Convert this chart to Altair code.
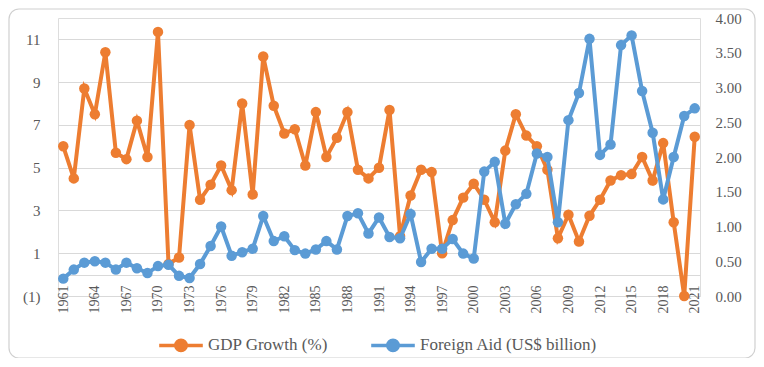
import altair as alt
import pandas as pd

years = list(range(1961, 2022))
gdp = [6.0, 4.5, 8.7, 7.5, 10.4, 5.7, 5.4, 7.2, 5.5, 11.35,
       0.5, 0.8, 7.0, 3.5, 4.2, 5.1, 3.95, 8.0, 3.75, 10.2,
       7.9, 6.6, 6.8, 5.1, 7.6, 5.5, 6.4, 7.6, 4.9, 4.5,
       5.0, 7.7, 1.8, 3.7, 4.9, 4.8, 1.0, 2.55, 3.6, 4.25,
       3.5, 2.45, 5.8, 7.5, 6.5, 6.0, 4.9, 1.7, 2.8, 1.55,
       2.75, 3.5, 4.4, 4.65, 4.7, 5.5, 4.4, 6.15, 2.45, -1.0, 6.45]
aid = [0.25, 0.38, 0.48, 0.50, 0.48, 0.38, 0.48, 0.40, 0.33, 0.43,
       0.45, 0.29, 0.26, 0.46, 0.72, 1.00, 0.58, 0.63, 0.68, 1.15,
       0.79, 0.86, 0.66, 0.61, 0.67, 0.79, 0.67, 1.15, 1.19, 0.90,
       1.13, 0.85, 0.83, 1.18, 0.49, 0.68, 0.68, 0.82, 0.61, 0.54,
       1.79, 1.93, 1.04, 1.32, 1.47, 2.05, 2.00, 1.06, 2.53, 2.92,
       3.70, 2.03, 2.18, 3.61, 3.75, 2.95, 2.35, 1.39, 2.00, 2.59, 2.70]
series_names = ["GDP Growth (%)", "Foreign Aid (US$ billion)"]
series_colors = ["#ED7D31", "#5B9BD5"]
left_ticks = [-1, 1, 3, 5, 7, 9, 11]
right_ticks = [0, 0.5, 1, 1.5, 2, 2.5, 3, 3.5, 4]
x_ticks = list(range(1961, 2022, 3))

df = pd.concat([
    pd.DataFrame({"year": years, "value": gdp, "series": series_names[0]}),
    pd.DataFrame({"year": years, "value": aid, "series": series_names[1]}),
])

FONT = "Liberation Serif, Times New Roman, serif"
TXT = "#595959"
GRID = "#d9d9d9"
W, H = 642, 278

color = alt.Color("series:N", scale=alt.Scale(domain=series_names, range=series_colors),
                  legend=alt.Legend(title=None, orient="none", direction="horizontal",
                                    legendX=99, legendY=303,
                                    symbolType="M-1,0L1,0M0.24,0A0.24,0.24,0,1,1,-0.24,0A0.24,0.24,0,1,1,0.24,0Z",
                                    symbolSize=1900, symbolStrokeWidth=3.5,
                                    labelFont=FONT, labelFontSize=17, labelColor=TXT,
                                    labelOffset=3, columnPadding=36, labelLimit=400))

xenc = alt.X("year:Q", scale=alt.Scale(domain=[1960.5, 2021.5], nice=False, zero=False),
             axis=alt.Axis(values=x_ticks, format="d", labelAngle=-90, title=None, grid=False,
                           ticks=False, domain=True, domainColor=GRID, offset=-21,
                           labelPadding=10, labelFont=FONT, labelFontSize=14, labelColor=TXT))

base = alt.Chart(df)

gdp_layer = base.transform_filter(alt.datum.series == series_names[0]).mark_line(
    strokeWidth=4, point=alt.OverlayMarkDef(size=110, filled=True, opacity=1)
).encode(
    x=xenc,
    y=alt.Y("value:Q", scale=alt.Scale(domain=[-1, 12], nice=False, zero=False),
            axis=alt.Axis(values=left_ticks, orient="left", title=None, grid=True, gridColor=GRID,
                          domain=False, ticks=False, labelPadding=18,
                          labelExpr="datum.value < 0 ? '(' + abs(datum.value) + ')' : datum.value",
                          labelFont=FONT, labelFontSize=15, labelColor=TXT)),
    color=color,
)

aid_layer = base.transform_filter(alt.datum.series == series_names[1]).mark_line(
    strokeWidth=4, point=alt.OverlayMarkDef(size=110, filled=True, opacity=1)
).encode(
    x=xenc,
    y=alt.Y("value:Q", scale=alt.Scale(domain=[0, 4], nice=False, zero=False),
            axis=alt.Axis(values=right_ticks, orient="right", title=None, grid=False,
                          domain=False, ticks=False, labelPadding=15, format=".2f",
                          labelFont=FONT, labelFontSize=15, labelColor=TXT)),
    color=color,
)

border = alt.Chart(pd.DataFrame({"k": [0]})).mark_rect(
    fillOpacity=0, stroke="#d0d0d0", strokeWidth=1.2, cornerRadius=10
).encode(x=alt.value(-49), x2=alt.value(697), y=alt.value(-9), y2=alt.value(340))

chart = alt.layer(border, gdp_layer, aid_layer).resolve_scale(y="independent").properties(
    width=W, height=H,
    padding={"left": 50, "top": 10, "right": 56, "bottom": 62},
    autosize=alt.AutoSizeParams(type="none"),
).configure_view(stroke=None).configure_legend(
    labelFont=FONT, labelFontSize=17, labelColor=TXT
).configure(font=FONT)

chart.save("out.html", embed_options={"renderer": "svg", "actions": False})
